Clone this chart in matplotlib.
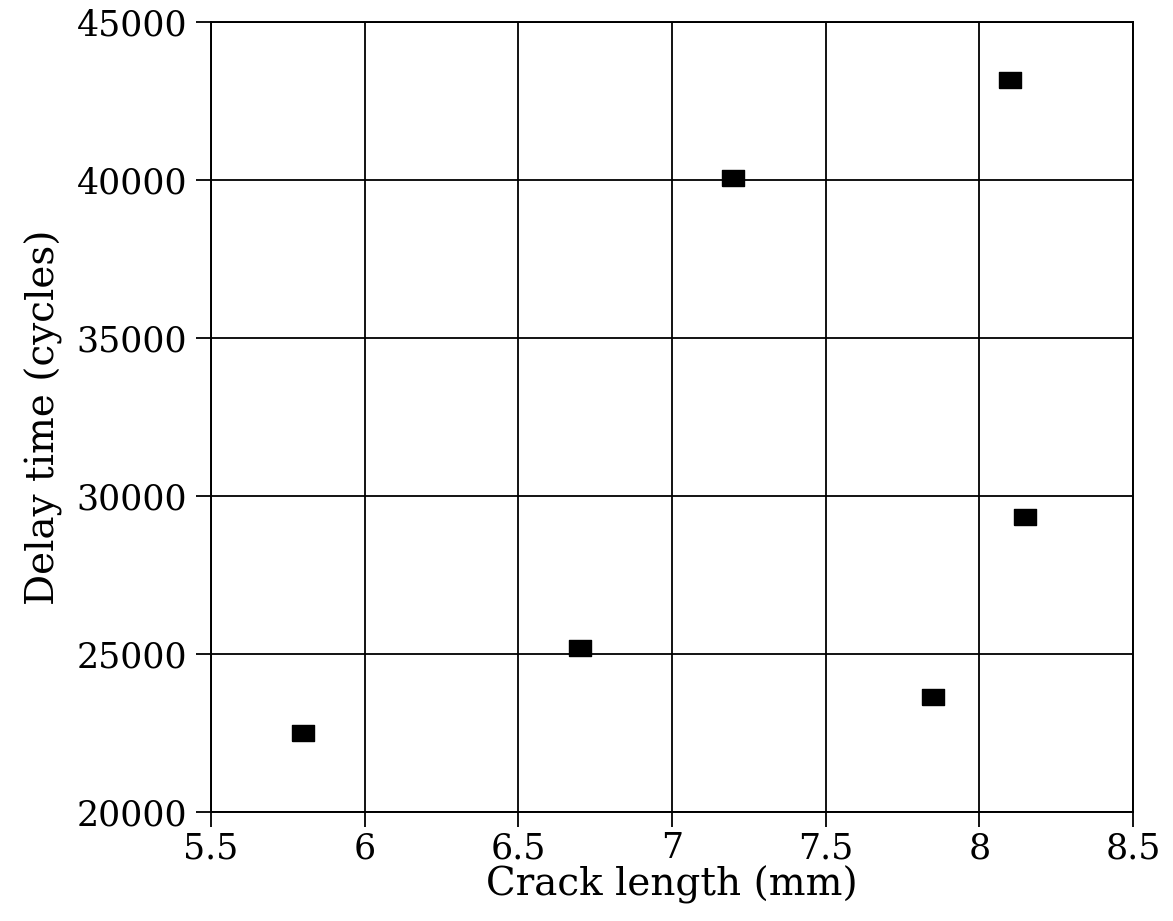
import matplotlib.pyplot as plt

# Datos
crack_length = [5.8, 6.7, 7.2, 7.85, 8.1, 8.15]
delay_time = [22500, 25200, 40050, 23650, 43150, 29350]

x_ticks = [5.5, 6, 6.5, 7, 7.5, 8, 8.5]
y_ticks = [20000, 25000, 30000, 35000, 40000, 45000]

plt.rcParams["font.family"] = ["DejaVu Serif"]

fig = plt.figure(figsize=(11.73, 9.21), dpi=100)
ax = fig.add_axes([0.1799, 0.1183, 0.786, 0.8578])

# marcador rectangular (más ancho que alto)
rect = [(-1.45, -1), (1.45, -1), (1.45, 1), (-1.45, 1), (-1.45, -1)]
ax.scatter(crack_length, delay_time, marker=rect, s=260, color="black", zorder=3)

ax.set_xlim(5.5, 8.5)
ax.set_ylim(20000, 45000)
ax.set_xticks(x_ticks)
ax.set_xticklabels(["5.5", "6", "6.5", "7", "7.5", "8", "8.5"])
ax.set_yticks(y_ticks)
ax.grid(True, color="black", linewidth=1.3)
for s in ax.spines.values():
    s.set_linewidth(1.4)
ax.tick_params(direction="out", length=11, width=1.3, labelsize=25, pad=3)
ax.tick_params(axis="y", pad=6)

ax.set_xlabel("Crack length (mm)", fontsize=28, labelpad=0)
ax.set_ylabel("Delay time (cycles)", fontsize=28, labelpad=10)

fig.savefig("out.png", dpi=100)
